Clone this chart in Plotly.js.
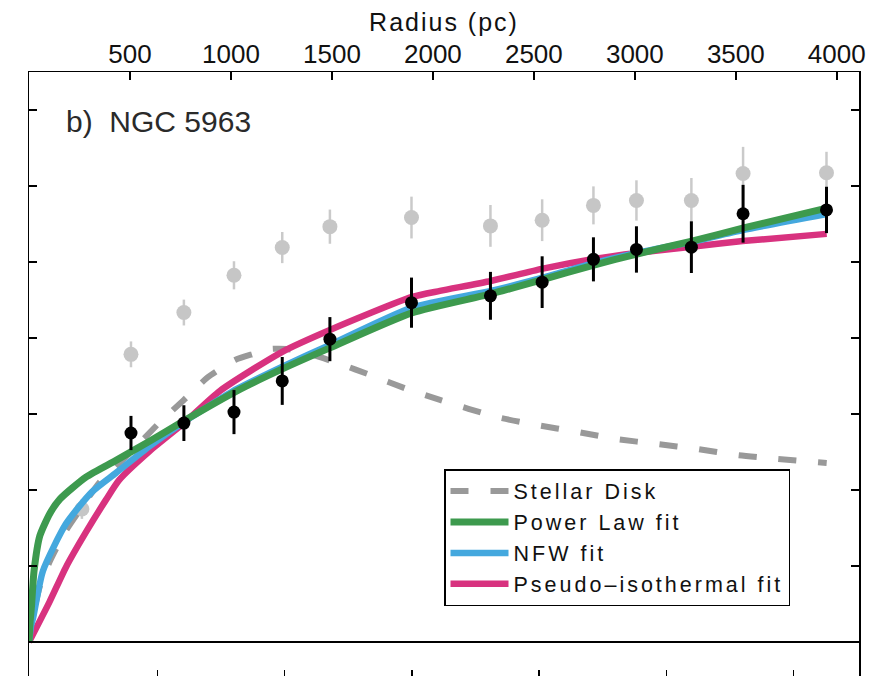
<!DOCTYPE html>
<html>
<head>
<meta charset="utf-8">
<script src="https://cdn.plot.ly/plotly-3.0.1.min.js"></script>
<style>
  html, body { margin: 0; padding: 0; overflow: hidden; background: #fff; }
  #chart { width: 884px; height: 700px; }
  .legendtext { letter-spacing: 3px; }
  .g-xtitle text { letter-spacing: 2px; }
</style>
</head>
<body>
<div id="chart"></div>
<script>
// ---- data (radius in pc, velocity in km/s) ----
const blackRadius = [505, 767, 1015, 1254, 1490, 1894, 2285, 2541, 2795, 3008, 3280, 3536, 3949];
const blackVel    = [55.0, 57.6, 60.5, 68.7, 79.7, 89.3, 91.1, 94.7, 100.7, 103.3, 103.9, 112.7, 113.7];
const blackErr    = [4.5, 4.7, 5.8, 6.3, 5.8, 6.6, 6.3, 6.8, 5.8, 6.1, 6.8, 7.6, 6.1];

const grayRadius = [262, 505, 767, 1015, 1254, 1490, 1894, 2285, 2541, 2795, 3008, 3280, 3536, 3949];
const grayVel    = [35.0, 75.7, 86.7, 96.5, 103.8, 109.3, 111.7, 109.5, 111.0, 114.9, 116.2, 116.2, 123.3, 123.5];
const grayErr    = [2.6, 3.4, 3.4, 3.7, 4.1, 4.5, 5.5, 5.5, 5.5, 5.0, 5.3, 5.9, 7.0, 5.5];

const diskR = [0, 20, 54, 104, 178, 262, 351, 505, 649, 767, 886, 1020, 1109, 1193, 1277, 1391, 1539, 1688, 1871, 2035, 2317, 2515, 2713, 2911, 3109, 3307, 3505, 3703, 3950];
const diskV = [0, 6.8, 14.7, 21.3, 28.9, 35.5, 42.1, 50.0, 57.9, 63.7, 69.7, 74.2, 75.8, 77.1, 77.1, 75.8, 73.2, 70.3, 66.6, 63.7, 59.2, 57.1, 55.3, 53.4, 52.1, 50.8, 49.2, 48.2, 47.1];

const powerR = [0, 5, 12, 25, 54, 104, 153, 282, 431, 599, 767, 1030, 1252, 1490, 1896, 2287, 2539, 2797, 3010, 3282, 3534, 3950];
const powerV = [0, 5.0, 9.2, 18.7, 28.0, 33.9, 37.6, 43.4, 47.8, 52.9, 58.2, 66.1, 71.8, 77.4, 86.6, 91.6, 95.3, 99.2, 102.1, 105.5, 108.9, 114.2];

const nfwR = [0, 10, 20, 69, 183, 312, 431, 599, 767, 1030, 1252, 1490, 1896, 2287, 2539, 2797, 3010, 3282, 3534, 3950];
const nfwV = [0, 4.2, 6.3, 18.7, 31.1, 39.5, 44.5, 51.6, 57.9, 66.6, 72.4, 78.2, 88.0, 92.4, 95.8, 99.7, 102.4, 105.3, 108.4, 112.6];

const isoR = [0, 101, 183, 282, 381, 446, 599, 767, 946, 1252, 1490, 1896, 2035, 2287, 2539, 2797, 3010, 3282, 3534, 3950];
const isoV = [0, 10.5, 19.7, 28.9, 37.4, 42.6, 50.3, 57.6, 66.1, 76.3, 82.1, 90.8, 92.4, 95.0, 98.2, 100.8, 102.4, 104.0, 105.5, 107.4];

const topTicks = [500, 1000, 1500, 2000, 2500, 3000, 3500, 4000];
const bottomTicks = [10, 20, 30, 40, 50, 60];
const velTicks = [0, 20, 40, 60, 80, 100, 120, 140];

const FONT = 'Liberation Sans, Arial, Helvetica, sans-serif';

const traces = [
  {
    x: grayRadius, y: grayVel, type: 'scatter', mode: 'markers', showlegend: false,
    marker: { color: '#c6c6c6', size: 15 },
    error_y: { type: 'data', array: grayErr, color: '#cacaca', thickness: 2.5, width: 0 },
    hoverinfo: 'skip'
  },
  {
    x: diskR, y: diskV, type: 'scatter', mode: 'lines', name: 'Stellar Disk', legendrank: 1,
    line: { color: '#999999', width: 6, dash: '18px,22px', shape: 'spline', smoothing: 0.6 }
  },
  {
    x: isoR, y: isoV, type: 'scatter', mode: 'lines', name: 'Pseudo\u2013isothermal fit', legendrank: 4,
    line: { color: '#d8327f', width: 6.5, shape: 'spline', smoothing: 0.6 }
  },
  {
    x: nfwR, y: nfwV, type: 'scatter', mode: 'lines', name: 'NFW fit', legendrank: 3,
    line: { color: '#44a8de', width: 6.5, shape: 'spline', smoothing: 0.6 }
  },
  {
    x: powerR, y: powerV, type: 'scatter', mode: 'lines', name: 'Power Law fit', legendrank: 2,
    line: { color: '#3d9a4e', width: 7, shape: 'spline', smoothing: 0.6 }
  },
  {
    x: blackRadius, y: blackVel, type: 'scatter', mode: 'markers', showlegend: false,
    marker: { color: '#000000', size: 13 },
    error_y: { type: 'data', array: blackErr, color: '#000000', thickness: 3, width: 0 },
    hoverinfo: 'skip'
  },
  {
    x: [bottomTicks[0]], y: [null], xaxis: 'x2', yaxis: 'y', type: 'scatter', mode: 'markers',
    showlegend: false, hoverinfo: 'skip'
  }
];

const layout = {
  width: 884, height: 700,
  margin: { l: 29, r: 25, t: 72, b: 20, pad: 0 },
  paper_bgcolor: '#ffffff', plot_bgcolor: '#ffffff',
  font: { family: FONT, color: '#111111' },
  showlegend: true,
  legend: {
    x: 0.5, y: 0.347, xanchor: 'left', yanchor: 'top',
    bgcolor: '#ffffff', bordercolor: '#000000', borderwidth: 1.5,
    font: { family: FONT, size: 21.5, color: '#111111' },
    itemwidth: 58, tracegroupgap: 0
  },
  xaxis: {
    side: 'top', range: [0, 4110],
    tickvals: topTicks, ticktext: topTicks.map(String),
    ticks: 'inside', ticklen: 8, tickwidth: 1.5, tickcolor: '#000',
    showline: true, linecolor: '#000', linewidth: 1.5, mirror: false,
    showgrid: false, zeroline: false,
    tickfont: { family: FONT, size: 26, color: '#111111' },
    ticklabelstandoff: -3,
    title: { text: 'Radius (pc)', font: { family: FONT, size: 25, color: '#111111' }, standoff: 0 }
  },
  xaxis2: {
    overlaying: 'x', side: 'bottom', anchor: 'y', range: [-0.097, 65.15],
    tickvals: bottomTicks, showticklabels: false,
    ticks: 'inside', ticklen: 10, tickwidth: 1.5, tickcolor: '#000',
    showline: true, linecolor: '#000', linewidth: 1.5,
    showgrid: false, zeroline: false
  },
  yaxis: {
    range: [-10, 150], tickvals: velTicks, showticklabels: false,
    ticks: 'inside', ticklen: 8, tickwidth: 1.5, tickcolor: '#000',
    showline: true, linecolor: '#000', linewidth: 1.5, mirror: 'ticks',
    showgrid: false,
    zeroline: true, zerolinecolor: '#000', zerolinewidth: 1.5
  },
  annotations: [
    {
      text: 'b)  NGC 5963', xref: 'paper', yref: 'paper', x: 0.042, y: 0.919,
      xanchor: 'left', yanchor: 'middle', showarrow: false,
      font: { family: FONT, size: 30, color: '#2a2a2a' }
    }
  ]
};

Plotly.newPlot('chart', traces, layout, { displayModeBar: false, staticPlot: true });
</script>
</body>
</html>
